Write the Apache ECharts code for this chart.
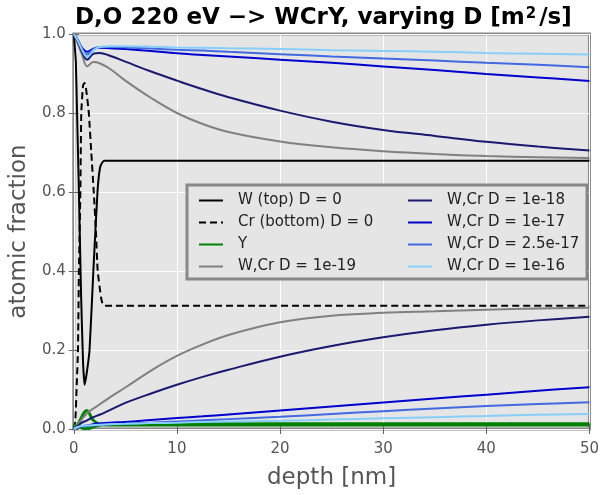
<!DOCTYPE html>
<html>
<head>
<meta charset="utf-8">
<script src="https://cdn.jsdelivr.net/npm/echarts@6/dist/echarts.min.js"></script>
<style>
  html, body { margin: 0; padding: 0; background: #fff; }
  #main { width: 602px; height: 495px; }
</style>
</head>
<body>
<div id="main"></div>
<script>
// D = 0 profiles (sharp features near the surface)
const depthW0 = [0, 0.2, 0.32, 0.5, 0.7, 0.9, 1.05, 1.25, 1.53, 1.9, 2.3, 2.55, 2.8, 3.0, 50];
const wTop0 = [1.0, 0.93, 0.8, 0.6, 0.35, 0.17, 0.112, 0.14, 0.2, 0.4, 0.6, 0.662, 0.676, 0.679, 0.679];

const depthCr0 = [0, 0.15, 0.3, 0.41, 0.5, 0.64, 0.73, 0.9, 1.05, 1.2, 1.46, 1.7, 1.94, 2.15, 2.32, 2.64, 2.8, 3.0, 50];
const crBot0 = [0, 0.02, 0.12, 0.2, 0.4, 0.6, 0.8, 0.87, 0.876, 0.86, 0.8, 0.7, 0.6, 0.5, 0.4, 0.334, 0.316, 0.312, 0.312];

// Y
const depthY1 = [0, 0.4, 0.8, 1.05, 1.27, 1.5, 1.8, 2.2, 2.6, 3.2, 50];
const yPeak = [0, 0.012, 0.032, 0.043, 0.047, 0.04, 0.025, 0.016, 0.012, 0.010, 0.010];
const depthY2 = [0, 0.3, 0.7, 1.2, 1.6, 2.0, 2.6, 3.5, 50];
const yDip = [0.012, 0.008, 0.003, 0.001, 0.002, 0.006, 0.01, 0.013, 0.013];

// diffusion cases, shared depth grid
const depth = [0, 0.4, 0.8, 1.3, 1.9, 2.5, 3.5, 5, 7.5, 10, 12.5, 15, 20, 25, 30, 35, 40, 45, 50];
const top19 = [1.0, 0.975, 0.948, 0.918, 0.929, 0.926, 0.912, 0.882, 0.838, 0.8, 0.772, 0.752, 0.728, 0.713, 0.703, 0.696, 0.691, 0.688, 0.686];
const bot19 = [0, 0.012, 0.025, 0.04, 0.052, 0.062, 0.08, 0.105, 0.148, 0.185, 0.214, 0.238, 0.27, 0.287, 0.294, 0.298, 0.302, 0.305, 0.307];
const top18 = [1.0, 0.98, 0.955, 0.935, 0.95, 0.952, 0.945, 0.93, 0.905, 0.882, 0.86, 0.84, 0.806, 0.778, 0.757, 0.742, 0.727, 0.715, 0.705];
const bot18 = [0, 0.008, 0.016, 0.022, 0.03, 0.036, 0.048, 0.066, 0.09, 0.112, 0.132, 0.15, 0.183, 0.21, 0.232, 0.25, 0.264, 0.275, 0.284];
const top17 = [1.0, 0.985, 0.965, 0.955, 0.963, 0.965, 0.964, 0.962, 0.957, 0.951, 0.947, 0.943, 0.935, 0.927, 0.918, 0.909, 0.899, 0.89, 0.881];
const bot17 = [0, 0.004, 0.007, 0.009, 0.012, 0.014, 0.016, 0.018, 0.023, 0.028, 0.032, 0.037, 0.047, 0.057, 0.067, 0.077, 0.087, 0.097, 0.106];
const top25 = [1.0, 0.985, 0.962, 0.948, 0.962, 0.967, 0.967, 0.966, 0.963, 0.96, 0.958, 0.955, 0.949, 0.943, 0.938, 0.933, 0.927, 0.922, 0.916];
const bot25 = [0, 0.004, 0.006, 0.007, 0.009, 0.01, 0.012, 0.013, 0.016, 0.019, 0.022, 0.025, 0.031, 0.038, 0.045, 0.052, 0.058, 0.063, 0.068];
const top16 = [1.0, 0.983, 0.96, 0.942, 0.958, 0.967, 0.969, 0.969, 0.968, 0.966, 0.965, 0.964, 0.962, 0.959, 0.957, 0.955, 0.952, 0.95, 0.948];
const bot16 = [0, 0.005, 0.008, 0.009, 0.01, 0.011, 0.012, 0.013, 0.015, 0.016, 0.018, 0.019, 0.021, 0.024, 0.027, 0.03, 0.033, 0.036, 0.038];

const xTicks = [0, 10, 20, 30, 40, 50];
const yTicks = [0.0, 0.2, 0.4, 0.6, 0.8, 1.0];

const font = 'DejaVu Sans';

function pairs(xs, ys) {
  return xs.map((x, i) => [x, ys[i]]);
}

function line(name, xs, ys, color, extra) {
  return Object.assign({
    name: name,
    type: 'line',
    data: pairs(xs, ys),
    symbol: 'none',
    smooth: 0.4,
    lineStyle: { color: color, width: 2 },
    itemStyle: { color: color },
    animation: false
  }, extra || {});
}

const cGray = '#808080', cNavy = '#191970', cBlue = '#0000cd', cRoyal = '#4169e1', cSky = '#87cefa';

const series = [
  line('W (top) D = 0', depthW0, wTop0, '#000000', { smooth: 0.15 }),
  line('Cr (bottom) D = 0', depthCr0, crBot0, '#000000', { smooth: 0.15, lineStyle: { color: '#000', width: 2, type: [7, 4] } }),
  line('Y', depthY1, yPeak, '#008000', { lineStyle: { color: '#008000', width: 3 } }),
  line('Y', depthY2, yDip, '#008000', { lineStyle: { color: '#008000', width: 3 } }),
  line('W,Cr D = 1e-19', depth, top19, cGray),
  line('W,Cr D = 1e-19', depth, bot19, cGray),
  line('W,Cr D = 1e-18', depth, top18, cNavy),
  line('W,Cr D = 1e-18', depth, bot18, cNavy),
  line('W,Cr D = 1e-17', depth, top17, cBlue),
  line('W,Cr D = 1e-17', depth, bot17, cBlue),
  line('W,Cr D = 2.5e-17', depth, top25, cRoyal),
  line('W,Cr D = 2.5e-17', depth, bot25, cRoyal),
  line('W,Cr D = 1e-16', depth, top16, cSky),
  line('W,Cr D = 1e-16', depth, bot16, cSky)
];

const legendText = { fontFamily: font, fontSize: 15, color: '#222', padding: [0, 0, 0, 10] };

const chart = echarts.init(document.getElementById('main'), null, { renderer: 'canvas' });

chart.setOption({
  animation: false,
  backgroundColor: '#ffffff',
  title: {
    text: '{a|D,O 220 eV −> WCrY, varying D [m}{s|2}{a|/s]}',
    left: 70,
    top: 2,
    textStyle: {
      rich: {
        a: { fontFamily: font, fontSize: 23, fontWeight: 'bold', color: '#000' },
        s: { fontFamily: font, fontSize: 15, fontWeight: 'bold', color: '#000', verticalAlign: 'top', padding: [0, 3, 0, 1] }
      }
    }
  },
  grid: {
    left: 70, right: 8, top: 34, bottom: 64,
    show: true,
    backgroundColor: '#e5e5e5',
    borderColor: '#888888',
    borderWidth: 3,
    z: 0
  },
  graphic: [{
    type: 'rect',
    z: 3,
    shape: { x: 187, y: 185, width: 400, height: 94 },
    style: { fill: '#e5e5e5', stroke: '#888888', lineWidth: 3 }
  }],
  legend: [{
    data: ['W (top) D = 0', 'Cr (bottom) D = 0', 'Y', 'W,Cr D = 1e-19'],
    orient: 'vertical',
    left: 193, top: 188,
    itemWidth: 24, itemHeight: 14, itemGap: 7,
    itemStyle: { opacity: 0 },
    textStyle: legendText,
    z: 5
  }, {
    data: ['W,Cr D = 1e-18', 'W,Cr D = 1e-17', 'W,Cr D = 2.5e-17', 'W,Cr D = 1e-16'],
    orient: 'vertical',
    left: 402, top: 188,
    itemWidth: 24, itemHeight: 14, itemGap: 7,
    itemStyle: { opacity: 0 },
    textStyle: legendText,
    z: 5
  }],
  xAxis: [{
    type: 'value',
    min: 0, max: 50, interval: 10,
    name: 'depth [nm]',
    nameLocation: 'middle',
    nameGap: 38,
    nameTextStyle: { fontFamily: font, fontSize: 23, color: '#555' },
    axisLine: { show: false },
    axisTick: { show: true, length: 5, lineStyle: { color: '#666' } },
    axisLabel: { fontFamily: font, fontSize: 15, color: '#555', margin: 13, formatter: v => xTicks.includes(v) ? String(v) : '' },
    splitLine: { show: true, lineStyle: { color: '#ffffff', width: 1 } }
  }, {
    type: 'value',
    position: 'top',
    min: 0, max: 50, interval: 10,
    axisLine: { show: false },
    axisTick: { show: true, length: 5, lineStyle: { color: '#666' } },
    axisLabel: { show: false },
    splitLine: { show: false }
  }],
  yAxis: [{
    type: 'value',
    min: 0, max: 1, interval: 0.2,
    name: 'atomic fraction',
    nameLocation: 'middle',
    nameGap: 30,
    nameTextStyle: { fontFamily: font, fontSize: 23, color: '#555' },
    axisLine: { show: false },
    axisTick: { show: true, length: 5, lineStyle: { color: '#666' } },
    axisLabel: { fontFamily: font, fontSize: 15, color: '#555', margin: 8, formatter: v => yTicks.some(t => Math.abs(t - v) < 1e-9) ? v.toFixed(1) : '' },
    splitLine: { show: true, lineStyle: { color: '#ffffff', width: 1 } }
  }, {
    type: 'value',
    position: 'right',
    min: 0, max: 1, interval: 0.2,
    axisLine: { show: false },
    axisTick: { show: true, length: 5, lineStyle: { color: '#666' } },
    axisLabel: { show: false },
    splitLine: { show: false }
  }],
  series: series
});
</script>
</body>
</html>
